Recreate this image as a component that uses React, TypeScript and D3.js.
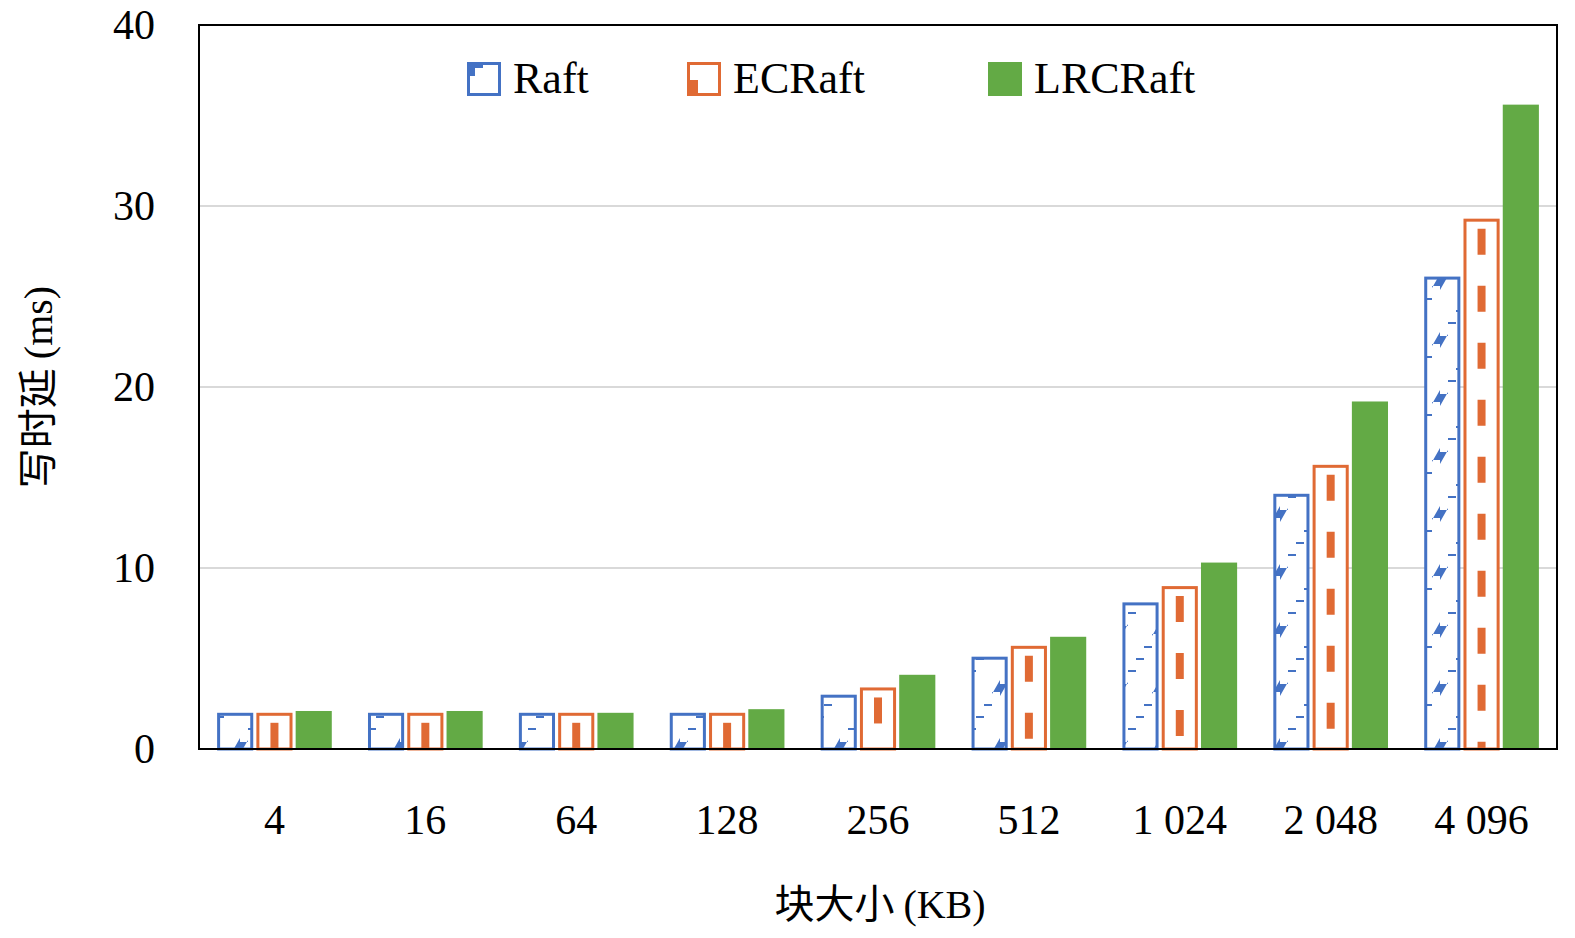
import React from 'react';
import * as d3 from 'd3';

const categories = ['4', '16', '64', '128', '256', '512', '1 024', '2 048', '4 096'];
const seriesNames = ['Raft', 'ECRaft', 'LRCRaft'];
const raft = [2, 2, 2, 2, 3, 5.1, 8.1, 14.1, 26.1];
const ecraft = [2, 2, 2, 2, 3.4, 5.7, 9, 15.7, 29.3];
const lrcraft = [2.1, 2.1, 2, 2.2, 4.1, 6.2, 10.3, 19.2, 35.6];
const yTicks = [0, 10, 20, 30, 40];

const BLUE = '#4472c4';
const ORANGE = '#e06a34';
const GREEN = '#63aa45';
const FONT = '"Liberation Serif", "Times New Roman", serif';
const CJK = '"Noto Sans CJK SC", sans-serif';

export default function App() {
  const W = 1575, H = 938;
  const m = { left: 199, right: 1557, top: 25, bottom: 749 };
  const x = d3.scaleBand<string>().domain(categories).range([m.left, m.right]).paddingInner(0.24).paddingOuter(0.12);
  const xs = d3.scaleBand<string>().domain(seriesNames).range([0, x.bandwidth()]).paddingInner(0.08);
  const y = d3.scaleLinear().domain([0, 40]).range([m.bottom, m.top]);
  const data = [raft, ecraft, lrcraft];

  // stepped diagonal band for Raft
  const steps: string[] = [];
  const s = 9;
  for (let i = 0; i < 5; i++) steps.push(`${i * s},${58 - i * s * 1.3}`);
  const stairPts = d3.range(0, 5).flatMap(i => [[i * 8, 58 - i * 12], [i * 8, 58 - (i + 1) * 12]]);
  const upper = stairPts.map(p => [p[0] + 8, p[1] - 14]);
  const poly = [...stairPts, ...upper.reverse()].map(p => p.join(',')).join(' ');

  return (
    <svg width={W} height={H} style={{ position: 'absolute', left: 0, top: 0, background: '#fff' }}>
      <defs>
        <pattern id="raftPat" patternUnits="userSpaceOnUse" width={40} height={58}>
          <rect width={40} height={58} fill="#fff" />
          <polygon points={poly} fill={BLUE} />
          <polygon points={poly} fill={BLUE} transform="translate(0,58)" />
          <polygon points={poly} fill={BLUE} transform="translate(0,-58)" />
        </pattern>
      </defs>
      {yTicks.filter(t => t > 0 && t < 40).map(t => (
        <line key={t} x1={m.left} x2={m.right} y1={y(t)} y2={y(t)} stroke="#d9d9d9" strokeWidth={2} />
      ))}
      <rect x={m.left} y={m.top} width={m.right - m.left} height={m.bottom - m.top} fill="none" stroke="#000" strokeWidth={2} />
      {categories.map((c, i) => (
        <g key={c}>
          {data.map((ser, k) => {
            const bx = (x(c) as number) + (xs(seriesNames[k]) as number);
            const bw = xs.bandwidth();
            const top = y(ser[i]);
            const h = m.bottom - top;
            if (k === 2) return <rect key={k} x={bx} y={top} width={bw} height={h} fill={GREEN} />;
            if (k === 0) return <rect key={k} x={bx + 1.5} y={top + 1.5} width={bw - 3} height={h - 1.5} fill="url(#raftPat)" stroke={BLUE} strokeWidth={3} />;
            return (
              <g key={k}>
                <rect x={bx + 1.5} y={top + 1.5} width={bw - 3} height={h - 1.5} fill="#fff" stroke={ORANGE} strokeWidth={3} />
                <line x1={bx + bw / 2} x2={bx + bw / 2} y1={top + 10} y2={m.bottom} stroke={ORANGE} strokeWidth={8} strokeDasharray="26,31" />
              </g>
            );
          })}
          <text x={(x(c) as number) + x.bandwidth() / 2} y={834} textAnchor="middle" fontFamily={FONT} fontSize={42}>{c}</text>
        </g>
      ))}
      <line x1={m.left} x2={m.right} y1={m.bottom} y2={m.bottom} stroke="#000" strokeWidth={2} />
      {yTicks.map(t => (
        <text key={t} x={155} y={y(t) + 14} textAnchor="end" fontFamily={FONT} fontSize={42}>{t}</text>
      ))}
      <text transform="translate(52,387) rotate(-90)" textAnchor="middle" fontSize={40}>
        <tspan fontFamily={CJK}>写时延 </tspan><tspan fontFamily={FONT}>(ms)</tspan>
      </text>
      <text x={880} y={918} textAnchor="middle" fontSize={40}>
        <tspan fontFamily={CJK}>块大小 </tspan><tspan fontFamily={FONT}>(KB)</tspan>
      </text>
      {seriesNames.map((n, k) => {
        const lx = [467, 687, 988][k];
        return (
          <g key={n}>
            {k === 2 ? <rect x={lx} y={62} width={34} height={34} fill={GREEN} />
              : <g>
                <rect x={lx + 1.5} y={63.5} width={31} height={31} fill="#fff" stroke={k === 0 ? BLUE : ORANGE} strokeWidth={3} />
                {k === 0
                  ? <polygon points={`${lx},${96} ${lx},${76} ${lx + 8},${76} ${lx + 8},${68} ${lx + 16},${68} ${lx + 16},${62} ${lx + 3},${62} ${lx + 3},${96}`} fill={BLUE} />
                  : <rect x={lx + 3} y={80} width={8} height={16} fill={ORANGE} />}
              </g>}
            <text x={lx + 46} y={93} fontFamily={FONT} fontSize={44}>{n}</text>
          </g>
        );
      })}
    </svg>
  );
}
